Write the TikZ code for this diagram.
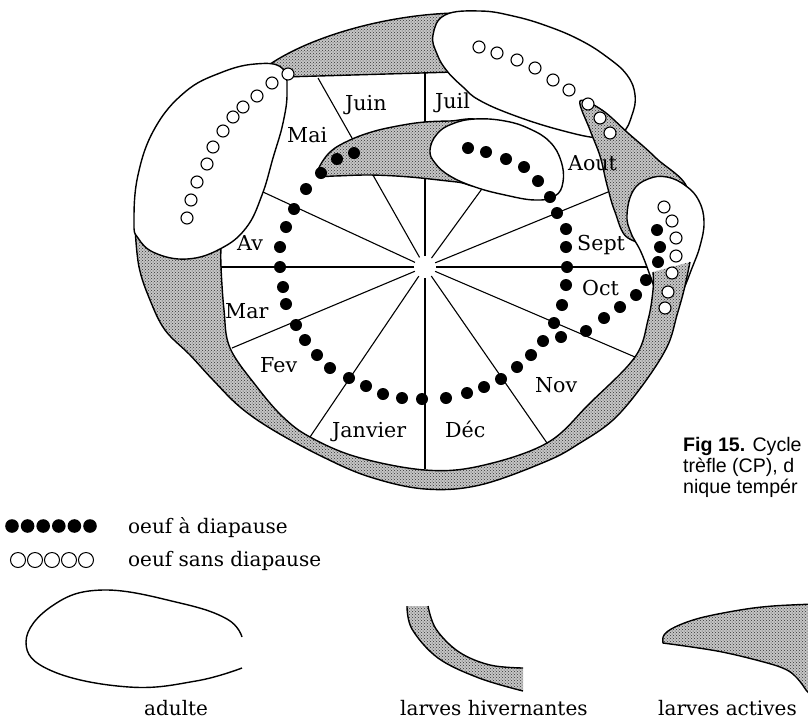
\documentclass[tikz,border=0pt]{standalone}
\usepackage{fontspec}
\setmainfont{DejaVu Serif}
\newfontfamily\capfont{Liberation Sans}
\usetikzlibrary{patterns}

\begin{document}
\begin{tikzpicture}[x=1pt, y=-1pt,
    outline/.style={line width=1.4pt, line join=round},
    hatchfill/.style={preaction={fill=gray!45}, pattern=crosshatch dots, pattern color=black!80},
    hatch/.style={hatchfill, outline, draw},
    adult/.style={outline, draw, fill=white},
    spoke/.style={line width=1.1pt, shorten <=11pt},
    blackegg/.style={fill=black},
    openegg/.style={draw, fill=white, line width=1.1pt},
    month/.style={anchor=base west, inner sep=0pt, font=\fontsize{20.6}{24}\selectfont},
    legend/.style={anchor=base west, inner sep=0pt, font=\fontsize{20}{24}\selectfont},
    caption/.style={anchor=base west, inner sep=0pt, font=\capfont\fontsize{19.6}{24}\selectfont}
]
\clip (0,0) rectangle (808,721);

% month wheel
\coordinate (ctr) at (425,267);
\foreach \p in {(425,73),(318,78),(263,192),(220,267),(232,348),(310,437),
                (425,469),(547,443),(635,357),(648,267),(608,192),(484,186)}
  \draw[spoke] (ctr) -- \p;

% larves hivernantes, top
\path[hatch] (262,70) .. controls (300,40) and (380,15) .. (455,13) -- (455,72) -- (284,77) -- cycle;

% adulte, top right
\path[adult] plot[smooth cycle, tension=0.7] coordinates {(433,35) (445,15) (480,11) (513,16) (547,26)
  (580,40) (607,57) (627,75) (635,95) (632,115) (622,133) (600,138) (560,130) (513,115) (479,100)
  (463,87) (447,71) (437,54)};

% larves actives, right
\path[hatch] plot[smooth cycle, tension=0.6] coordinates {(580,101) (590,130) (600,156) (607,185)
  (615,212) (628,238) (660,240) (688,192) (656,158) (628,133) (602,110)};

% adulte, right
\path[adult] plot[smooth cycle, tension=0.7] coordinates {(627,215) (633,191) (648,179) (667,177)
  (686,186) (699,201) (704,222) (700,246) (692,268) (682,292) (670,308) (659,300) (651,278)
  (641,252) (631,233)};

% larves hivernantes, bottom
\path[hatchfill] plot[smooth, tension=0.6] coordinates {(690,262) (684,290) (677,315) (667,347)
  (642,386) (613,420) (580,443) (547,461) (480,485) (425,489) (370,477) (323,457) (273,430)
  (240,407) (213,380) (190,355) (165,330) (150,300) (139,267) (135,228)}
  -- (160,214) -- (222,228)
  -- plot[smooth, tension=0.6] coordinates {(221,245) (221,267) (224,310) (230,348) (257,387)
  (283,417) (310,437) (357,457) (425,470) (480,466) (547,443) (590,403) (635,357) (648,320)
  (653,290) (653,272)} -- cycle;
\draw[outline] plot[smooth, tension=0.6] coordinates {(690,262) (684,290) (677,315) (667,347)
  (642,386) (613,420) (580,443) (547,461) (480,485) (425,489) (370,477) (323,457) (273,430)
  (240,407) (213,380) (190,355) (165,330) (150,300) (139,267) (135,228)};
\draw[outline] plot[smooth, tension=0.6] coordinates {(221,245) (221,267) (224,310) (230,348)
  (257,387) (283,417) (310,437) (357,457) (425,470) (480,466) (547,443) (590,403) (635,357)
  (648,320) (653,290) (653,272)};

% adulte, left
\path[adult] plot[smooth cycle, tension=0.7] coordinates {(134,222) (138,175) (155,128) (185,92)
  (220,73) (255,64) (282,68) (287,92) (283,123) (273,158) (262,195) (246,228) (220,249)
  (187,259) (155,253) (138,238)};

% larves actives, middle
\path[hatch] plot[smooth cycle, tension=0.6] coordinates {(318,170) (330,152) (350,140) (375,131)
  (403,125) (425,122) (450,121) (480,121) (500,150) (480,184) (457,182) (410,177) (370,175)
  (335,176) (322,176)};

% adulte, Aout
\path[adult] plot[smooth cycle, tension=0.7] coordinates {(430,150) (437,134) (452,124) (475,119)
  (505,121) (530,129) (550,142) (561,161) (563,182) (555,196) (535,200) (505,195) (475,187)
  (450,176) (435,163)};

% eggs
\foreach \p in {(354,153),(337,159),(321,173),(306,189),(294,209),(286,227),(280,247),(280,267),
  (283,287),(286,304),(296,325),(305,340),(317,355),(330,368),(349,378),(366,386),(383,394),
  (402,398),(422,399),(446,398),(467,393),(484,387),(501,379),(517,367),(531,355),(543,341),
  (554,323),(562,305),(566,285),(567,267),(566,247),(566,229),(557,213),(550,197),(538,181),
  (524,167),(506,159),(486,152),(468,148),
  (657,230),(660,247),(658,262),(646,280),(636,295),(620,307),(604,318),(586,331),(561,337)}
  \fill[blackegg] \p circle[radius=6pt];
\foreach \p in {(187,218),(191,200),(197,182),(207,164),(213,147),(223,131),(233,117),(243,107),
  (257,96),(272,83),(288,74),
  (479,47),(497,53),(517,60),(535,68),(553,80),(569,90),(588,104),(600,118),(610,133),
  (664,207),(672,221),(676,238),(676,256),(672,273),(668,292),(665,308)}
  \draw[openegg] \p circle[radius=6pt];

% months
\node[month] (juin) at (345,110) {Juin};
\node[month] (juil) at (435,108) {Juil};
\node[month] (mai) at (287,142) {Mai};
\node[month] (av) at (237,250) {Av};
\node[month] (mar) at (225,318) {Mar};
\node[month] (fev) at (260,372) {Fev};
\node[month] (jan) at (332,437) {Janvier};
\node[month] (dec) at (445,437) {Déc};
\node[month] (nov) at (535,392) {Nov};
\node[month] (oct) at (582,295) {Oct};
\node[month] (sept) at (577,250) {Sept};
\node[month] (aout) at (568,170) {Aout};

% caption
\node[caption] (fig) at (683,451) {\textbf{Fig 15.} Cycle};
\node[caption] (cap2) at (683,472) {trèfle (CP), d};
\node[caption] (cap3) at (683,493) {nique tempér};

% legend
\foreach \i in {0,...,5}
  \fill[blackegg] (12+15.6*\i,526) circle[radius=6.8pt];
\foreach \i in {0,...,4}
  \draw[line width=1pt] (18+17*\i,560) circle[radius=7.5pt];
\node[legend] (diap) at (128,533) {oeuf à diapause};
\node[legend] (sdiap) at (128,566) {oeuf sans diapause};

\draw[outline] plot[smooth, tension=0.7] coordinates {(242,637) (227,619) (180,603) (103,590)
  (52,606) (26,642) (52,671) (129,687) (196,681) (242,668)};
\path[hatchfill] plot[smooth, tension=0.6] coordinates {(407,606) (412,629) (438,658) (479,678) (523,691)}
  -- plot[smooth, tension=0.6] coordinates {(523,668) (490,665) (459,652) (436,629) (428,606)} -- cycle;
\draw[outline] plot[smooth, tension=0.6] coordinates {(407,606) (412,629) (438,658) (479,678) (523,691)};
\draw[outline] plot[smooth, tension=0.6] coordinates {(428,606) (436,629) (459,652) (490,665) (523,668)};
\path[hatch] plot[smooth, tension=0.6] coordinates {(663,643) (664,635) (675,627) (700,618) (740,610)
  (773,606) (815,604)} -- (815,700)
  -- plot[smooth, tension=0.6] coordinates {(806,690) (797,678) (785,669) (760,661) (717,651) (663,643)} -- cycle;
\node[legend] (adu) at (144,715) {adulte};
\node[legend] (hiv) at (400,715) {larves hivernantes};
\node[legend] (act) at (658,715) {larves actives};
\end{tikzpicture}
\end{document}
